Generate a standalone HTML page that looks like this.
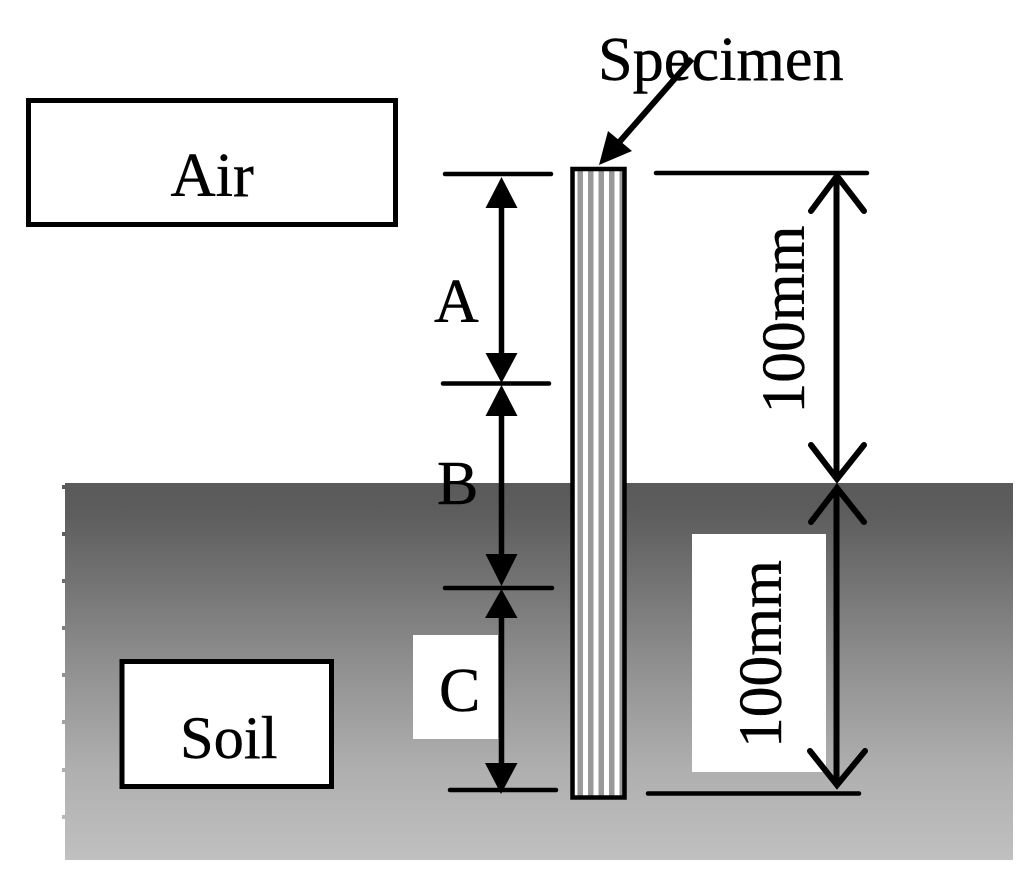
<!DOCTYPE html>
<html lang="en">
<head>
<meta charset="utf-8">
<title>Specimen diagram</title>
<style>
html,body{margin:0;padding:0;background:#fff;width:1024px;height:874px;overflow:hidden}
svg{display:block}
text{font-family:"Liberation Serif",serif;fill:#000;stroke:#000;stroke-width:0.4}
</style>
</head>
<body>
<svg xmlns="http://www.w3.org/2000/svg" width="1024" height="874" viewBox="0 0 1024 874">
<defs>
<linearGradient id="g" x1="0" y1="483" x2="0" y2="860" gradientUnits="userSpaceOnUse">
<stop offset="0" stop-color="#5a5a5a"/>
<stop offset="0.08" stop-color="#5d5d5d"/>
<stop offset="0.26" stop-color="#737373"/>
<stop offset="0.52" stop-color="#949494"/>
<stop offset="0.76" stop-color="#afafaf"/>
<stop offset="1" stop-color="#c0c0c0"/>
</linearGradient>
</defs>

<rect x="65" y="483" width="948" height="377" fill="url(#g)"/>
<rect x="62" y="485" width="4" height="4" fill="#5a5a5a"/>
<rect x="62" y="532" width="4" height="4" fill="#5e5e5e"/>
<rect x="62" y="579" width="4" height="4" fill="#6e6e6e"/>
<rect x="62" y="626" width="4" height="4" fill="#808080"/>
<rect x="62" y="673" width="4" height="4" fill="#929292"/>
<rect x="62" y="720" width="4" height="4" fill="#a2a2a2"/>
<rect x="62" y="768" width="4" height="4" fill="#aeaeae"/>
<rect x="62" y="815" width="4" height="4" fill="#b8b8b8"/>

<rect x="413" y="635" width="85" height="104" fill="#fff"/>
<rect x="692" y="534" width="134" height="238" fill="#fff"/>

<rect x="28.500" y="100.500" width="367" height="124" fill="#fff" stroke="#000" stroke-width="5"/>
<rect x="122" y="661.500" width="209.500" height="125" fill="#fff" stroke="#000" stroke-width="5"/>

<rect x="572.500" y="169" width="52" height="628.500" fill="#fff"/>
<rect x="577.500" y="169" width="5.500" height="628" fill="#999"/>
<rect x="588" y="169" width="5.500" height="628" fill="#999"/>
<rect x="598.500" y="169" width="5.500" height="628" fill="#999"/>
<rect x="609" y="169" width="5.500" height="628" fill="#999"/>
<rect x="619.500" y="169" width="3" height="628" fill="#999"/>
<rect x="572.500" y="169" width="52" height="628.500" fill="none" stroke="#000" stroke-width="4.500"/>

<g stroke="#000" stroke-width="4.500" stroke-linecap="round" fill="none">
<path d="M445 174H551"/>
<path d="M443 383.500H549"/>
<path d="M445 588H552"/>
<path d="M450 790H556"/>
<path d="M656 173H867"/>
<path d="M648 793.500H859"/>
</g>

<text x="598" y="80" style="font-size:62.300px">Specimen</text>
<text x="170.500" y="196" style="font-size:62.500px">Air</text>
<text x="180" y="758" style="font-size:60.500px">Soil</text>
<text x="434" y="322" style="font-size:62px">A</text>
<text x="437" y="504" style="font-size:62px">B</text>
<text x="439" y="711" style="font-size:62px">C</text>
<text transform="translate(804 413.500) rotate(-90)" style="font-size:61.500px">100mm</text>
<text transform="translate(781 748) rotate(-90)" style="font-size:61.500px">100mm</text>

<g stroke="#000" stroke-width="5.500" fill="none">
<path d="M501.500 200V360"/>
<path d="M501.500 410V560"/>
<path d="M501.500 612V770"/>
<path d="M692 59L615 147" stroke-width="6"/>
</g>
<polygon points="501.500,177 485.500,208 517.500,208" fill="#000"/>
<polygon points="501.500,383 485.500,353 517.500,353" fill="#000"/>
<polygon points="501.500,385 485.500,416 517.500,416" fill="#000"/>
<polygon points="501.500,586 485.500,554 517.500,554" fill="#000"/>
<polygon points="501.500,589 485,618 517.500,618" fill="#000"/>
<polygon points="501,794 485,763 517.500,763" fill="#000"/>
<polygon points="599,165 608,131 632,151" fill="#000"/>

<g stroke="#000" stroke-width="6" fill="none" stroke-linecap="round" stroke-linejoin="miter">
<path d="M836.500 178V478" stroke-linecap="butt"/>
<path d="M836.500 490V784" stroke-linecap="butt"/>
<path d="M811 211L837 176L864 211"/>
<path d="M811 445L837 479L864 445"/>
<path d="M811 522L837 488L864 522"/>
<path d="M810 751L837 785L865 751"/>
</g>
</svg>
</body>
</html>
